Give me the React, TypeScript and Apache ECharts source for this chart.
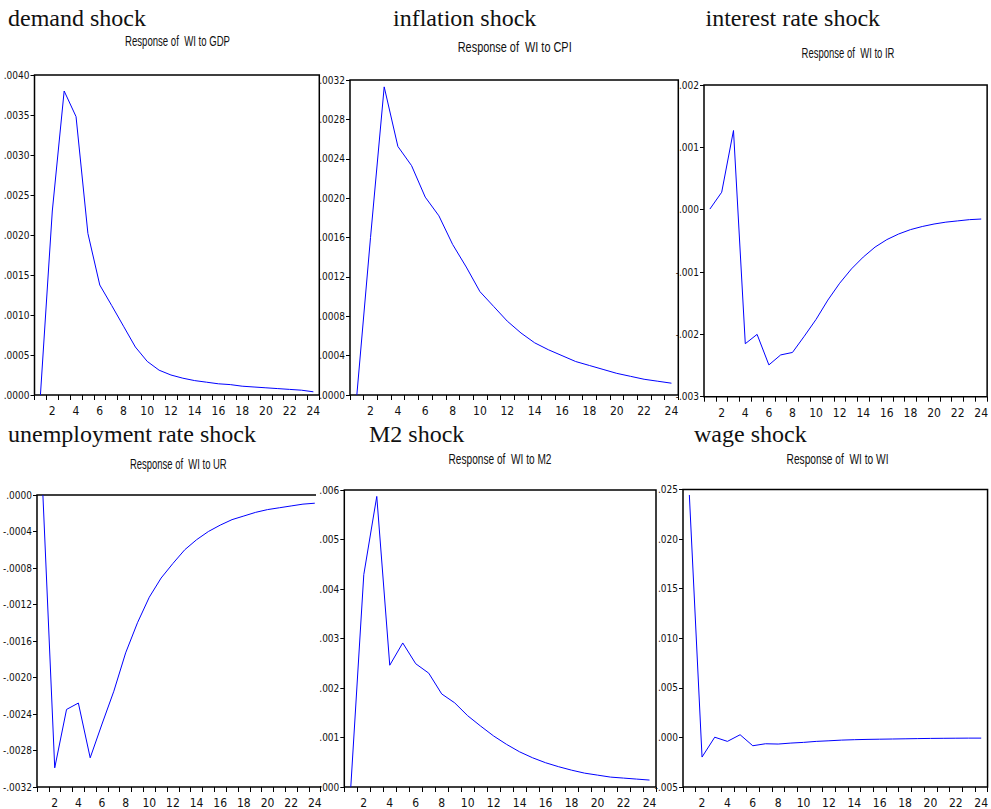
import React, { useEffect, useRef } from "react";
import * as echarts from "echarts";

// Forecast horizon (periods after the shock)
const periods = [
  "1", "2", "3", "4", "5", "6", "7", "8", "9", "10", "11", "12",
  "13", "14", "15", "16", "17", "18", "19", "20", "21", "22", "23", "24",
];

// Impulse responses of WI
const responseToGDP = [
  0, 0.0023, 0.0038, 0.00348, 0.00202, 0.001375, 0.00112, 0.00086, 0.0006, 0.00042,
  0.00031, 0.00025, 0.00021, 0.00018, 0.00016, 0.00014, 0.00013, 0.00011, 0.0001,
  0.00009, 0.00008, 0.00007, 0.00006, 0.00004,
];
const responseToCPI = [
  0, 0.0016, 0.00313, 0.002525, 0.00233, 0.00201, 0.00182, 0.00153, 0.0013, 0.00105,
  0.0009, 0.00075, 0.00063, 0.00053, 0.00046, 0.0004, 0.00034, 0.0003, 0.00026,
  0.00022, 0.00019, 0.00016, 0.00014, 0.00012,
];
const responseToIR = [
  0.00001, 0.00028, 0.00127, -0.00215, -0.002, -0.00249, -0.00233, -0.00229, -0.00203,
  -0.00176, -0.00145, -0.00118, -0.00095, -0.00076, -0.0006, -0.00048, -0.00039,
  -0.00032, -0.00027, -0.00023, -0.0002, -0.00018, -0.00016, -0.00015,
];
const responseToUR = [
  0, -0.00299, -0.00235, -0.00228, -0.00288, -0.00251, -0.00215, -0.00173, -0.0014,
  -0.00112, -0.00091, -0.00075, -0.0006, -0.00049, -0.0004, -0.00033, -0.00027,
  -0.00023, -0.00019, -0.00016, -0.00014, -0.00012, -0.0001, -0.00009,
];
const responseToM2 = [
  0, 0.00429, 0.00587, 0.00246, 0.00291, 0.00249, 0.0023, 0.00188, 0.0017, 0.00144,
  0.00123, 0.00103, 0.00086, 0.00071, 0.00059, 0.00049, 0.00041, 0.00034, 0.00028,
  0.00024, 0.0002, 0.00018, 0.00016, 0.00014,
];
const responseToWI = [
  0.02445, -0.00198, 0.00002, -0.0004, 0.00027, -0.00084, -0.00064, -0.00067, -0.00057,
  -0.0005, -0.0004, -0.00034, -0.00027, -0.00023, -0.0002, -0.00018, -0.00016,
  -0.00014, -0.00012, -0.0001, -0.00009, -0.00008, -0.00007, -0.00007,
];

const shockTitles = [
  "demand shock",
  "inflation shock",
  "interest rate shock",
  "unemployment rate shock",
  "M2 shock",
  "wage shock",
];
const responseTitles = [
  "Response of  WI to GDP",
  "Response of  WI to CPI",
  "Response of  WI to IR",
  "Response of  WI to UR",
  "Response of  WI to M2",
  "Response of  WI to WI",
];

// Value axis ranges: [min, max, interval, decimals]
const yRanges: [number, number, number, number][] = [
  [0, 0.004, 0.0005, 4],
  [0, 0.0032, 0.0004, 4],
  [-0.003, 0.002, 0.001, 3],
  [-0.0032, 0, 0.0004, 4],
  [0, 0.006, 0.001, 3],
  [-0.005, 0.025, 0.005, 3],
];

const seriesData = [
  responseToGDP,
  responseToCPI,
  responseToIR,
  responseToUR,
  responseToM2,
  responseToWI,
];

// Plot frames on the page
const frames = [
  { left: 34.5, top: 75, width: 284.8, height: 320 },
  { left: 350, top: 80, width: 328.3, height: 315 },
  { left: 704, top: 85, width: 288, height: 311.7 },
  { left: 36.7, top: 495, width: 284, height: 293.3 },
  { left: 344.3, top: 490, width: 311.7, height: 298 },
  { left: 683, top: 489.5, width: 308.5, height: 298.2 },
];
const headingPos = [
  { x: 8, y: 18 },
  { x: 393, y: 18 },
  { x: 705.5, y: 18 },
  { x: 8, y: 434 },
  { x: 369, y: 434 },
  { x: 694, y: 434 },
];
const subtitlePos = [
  { x: 177.5, y: 41, w: 105 },
  { x: 514.7, y: 47, w: 114 },
  { x: 848, y: 53, w: 93 },
  { x: 178.3, y: 464, w: 97 },
  { x: 500, y: 459, w: 103 },
  { x: 837.5, y: 459, w: 102 },
];

const NARROW = "'Liberation Sans Narrow', 'DejaVu Sans Condensed', 'Liberation Sans', sans-serif";
const SUB_FONT_SIZE = 15;
const SUB_FONT_FAMILY = "'Liberation Sans', Arial, sans-serif";

function fmt(decimals: number) {
  return (v: number) => {
    const s = Math.abs(v).toFixed(decimals).replace(/^0/, "");
    return (v < -1e-12 ? "-" : "") + s;
  };
}

function measure(text: string): number {
  const c = document.createElement("canvas").getContext("2d");
  if (!c) return text.length * SUB_FONT_SIZE * 0.5;
  c.font = `${SUB_FONT_SIZE}px ${SUB_FONT_FAMILY}`;
  return c.measureText(text).width;
}

export default function App() {
  const ref = useRef<HTMLDivElement>(null);

  useEffect(() => {
    document.body.style.margin = "0";
    if (!ref.current) return;
    const chart = echarts.init(ref.current, undefined, { renderer: "svg" });

    const grid = frames.map((f) => ({
      ...f,
      show: true,
      borderColor: "#000",
      borderWidth: 1.5,
      backgroundColor: "transparent",
      containLabel: false,
    }));

    const xAxis = frames.map((_, i) => ({
      type: "category" as const,
      gridIndex: i,
      position: "bottom" as const,
      data: periods,
      boundaryGap: true,
      axisLine: { show: false, onZero: false },
      axisTick: {
        show: true,
        interval: 0,
        alignWithLabel: false,
        length: 5,
        lineStyle: { color: "#000", width: 1 },
      },
      axisLabel: {
        interval: (idx: number) => idx % 2 === 1,
        margin: 10,
        fontFamily: NARROW,
        fontSize: 12,
        color: "#111",
      },
      splitLine: { show: false },
    }));

    const yAxis = yRanges.map(([min, max, interval, dec], i) => ({
      type: "value" as const,
      gridIndex: i,
      min,
      max,
      interval,
      z: i === 4 ? 120 : 2,
      axisLine: { show: false, onZero: false },
      axisTick: { show: true, length: 4, lineStyle: { color: "#000", width: 1 } },
      axisLabel: {
        formatter: fmt(dec),
        margin: 5,
        fontFamily: NARROW,
        fontSize: 10,
        color: "#111",
      },
      splitLine: { show: false },
    }));

    const series = seriesData.map((d, i) => ({
      type: "line" as const,
      xAxisIndex: i,
      yAxisIndex: i,
      data: d,
      symbol: "none",
      lineStyle: { color: "#0000ff", width: 1 },
      z: 3,
    }));

    const graphic: any[] = [];
    // the lower-middle panel sits over the right edge of the lower-left one
    graphic.push({
      type: "rect",
      z: 110,
      shape: { x: 316, y: 482, width: 24, height: 304 },
      style: { fill: "#fff" },
      silent: true,
    });
    shockTitles.forEach((t, i) => {
      graphic.push({
        type: "text",
        x: headingPos[i].x,
        y: headingPos[i].y,
        z: 130,
        style: {
          text: t,
          fontFamily: "'Liberation Serif', 'Times New Roman', serif",
          fontSize: 24,
          fill: "#111",
          align: "left",
          verticalAlign: "middle",
        },
      });
    });
    responseTitles.forEach((t, i) => {
      const p = subtitlePos[i];
      graphic.push({
        type: "text",
        x: p.x,
        y: p.y,
        scaleX: p.w / measure(t),
        z: 130,
        style: {
          text: t,
          fontFamily: SUB_FONT_FAMILY,
          fontSize: SUB_FONT_SIZE,
          fill: "#111",
          align: "center",
          verticalAlign: "middle",
        },
      });
    });

    chart.setOption({
      animation: false,
      backgroundColor: "#fff",
      grid,
      xAxis,
      yAxis,
      series,
      graphic,
    });

    return () => chart.dispose();
  }, []);

  return (
    <div
      ref={ref}
      style={{ position: "absolute", left: 0, top: 0, width: 991, height: 809 }}
    />
  );
}
